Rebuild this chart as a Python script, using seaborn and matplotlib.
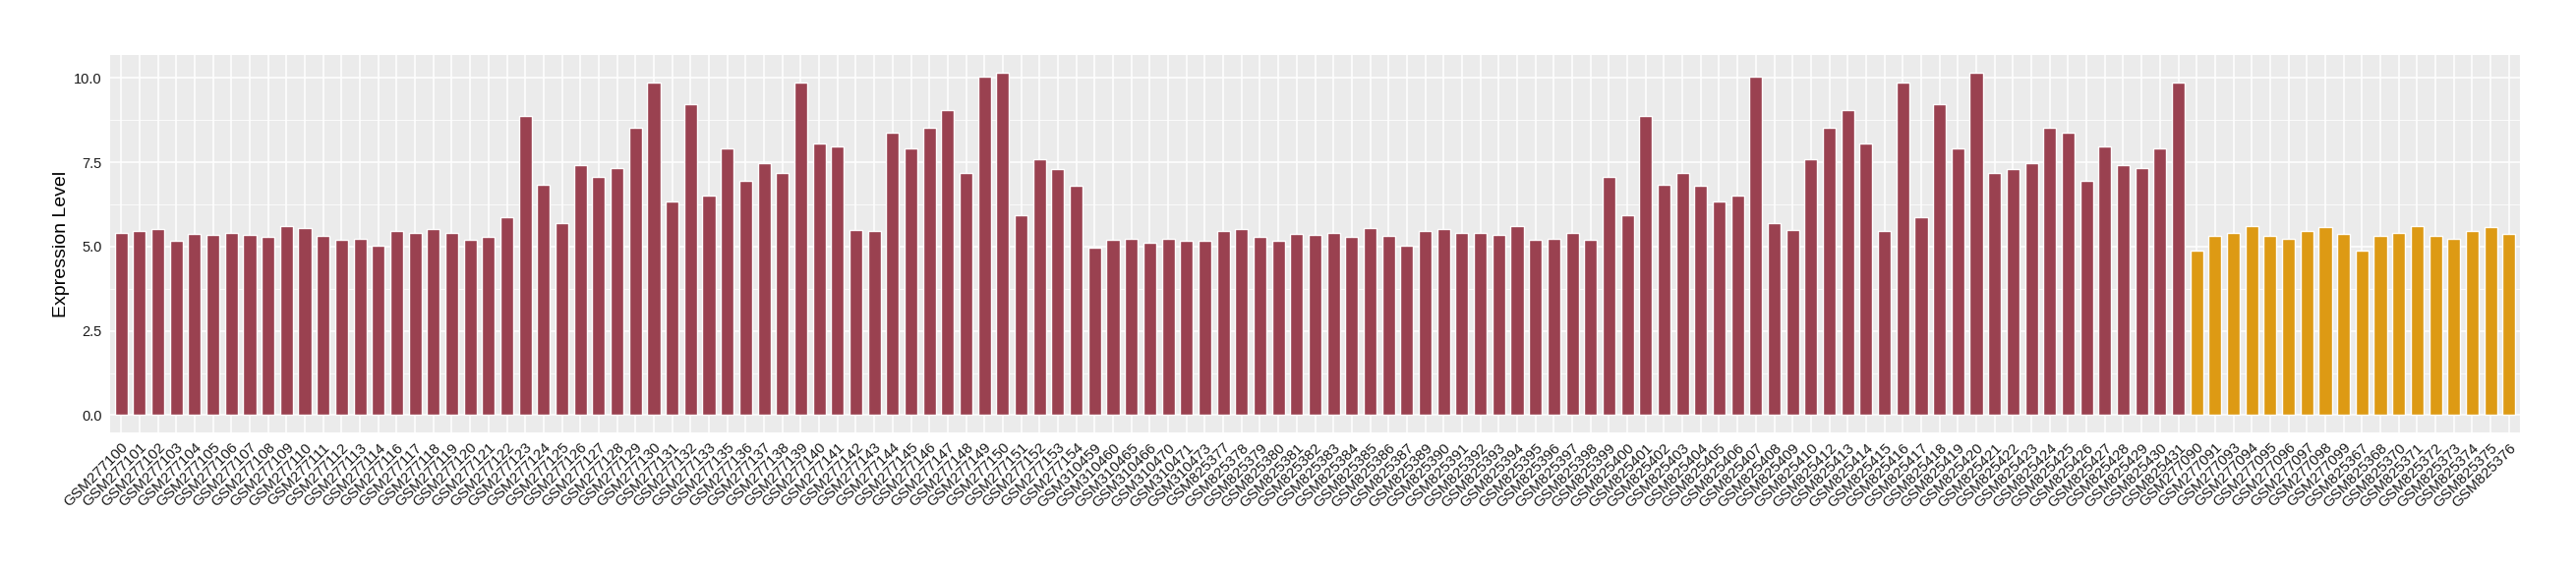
import matplotlib
matplotlib.use("Agg")
import matplotlib.pyplot as plt
import seaborn as sns
import pandas as pd
import numpy as np

# ---- data ----
red_samples = (
    [f"GSM2771{n:02d}" for n in range(0, 55) if n not in (15, 34)]
    + ["GSM310459", "GSM310460", "GSM310465", "GSM310466", "GSM310470", "GSM310471", "GSM310473"]
    + [f"GSM825{n}" for n in range(377, 432) if n not in (388, 411)]
)
orange_samples = (
    ["GSM277090", "GSM277091", "GSM277093", "GSM277094", "GSM277095", "GSM277096",
     "GSM277097", "GSM277098", "GSM277099",
     "GSM825367", "GSM825368", "GSM825370", "GSM825371", "GSM825372", "GSM825373",
     "GSM825374", "GSM825375", "GSM825376"]
)

red_values = [
    5.42, 5.45, 5.53, 5.16, 5.39, 5.36, 5.42, 5.36, 5.30, 5.62,
    5.56, 5.33, 5.21, 5.24, 5.04, 5.45, 5.42, 5.53, 5.42, 5.21,
    5.30, 5.88, 8.88, 6.84, 5.71, 7.43, 7.08, 7.34, 8.53, 9.87,
    6.35, 9.23, 6.50, 7.92, 6.96, 7.46, 7.19, 9.87, 8.07, 7.98,
    5.50, 5.45, 8.39, 7.92, 8.53, 9.06, 7.17, 10.05, 10.17, 5.94,
    7.60, 7.31, 6.79,
    4.98, 5.21, 5.24, 5.10, 5.24, 5.18, 5.16,
    5.45, 5.53, 5.30, 5.16, 5.39, 5.36, 5.42, 5.30, 5.56, 5.33,
    5.04, 5.45, 5.53, 5.42, 5.42, 5.36, 5.62, 5.21, 5.24, 5.42,
    5.21, 7.08, 5.94, 8.88, 6.84, 7.17, 6.79, 6.35, 6.50, 10.05,
    5.71, 5.50, 7.60, 8.53, 9.06, 8.07, 5.45, 9.87, 5.88, 9.23,
    7.92, 10.17, 7.19, 7.31, 7.46, 8.53, 8.39, 6.96, 7.98, 7.43,
    7.34, 7.92, 9.87,
]
orange_values = [
    4.89, 5.33, 5.42, 5.62, 5.33, 5.24, 5.45, 5.59, 5.39,
    4.89, 5.33, 5.42, 5.62, 5.33, 5.24, 5.45, 5.59, 5.39,
]
groups = ["A", "B"]
group_colors = ["#9A4150", "#DD9A14"]
y_ticks = [0.0, 2.5, 5.0, 7.5, 10.0]
y_label = "Expression Level"

df = pd.DataFrame({
    "sample": red_samples + orange_samples,
    "value": red_values + orange_values,
    "group": [groups[0]] * len(red_samples) + [groups[1]] * len(orange_samples),
})

# ---- style ----
sns.set_theme(style="darkgrid")
plt.rcParams["font.family"] = ["Liberation Sans", "DejaVu Sans"]

fig = plt.figure(figsize=(26.2, 5.8), dpi=100)
ax = fig.add_axes([112 / 2620, 1 - 440 / 580, (2563 - 112) / 2620, (440 - 56) / 580])
ax.set_facecolor("#EBEBEB")

sns.barplot(data=df, x="sample", y="value", hue="group", order=df["sample"].tolist(),
            palette=dict(zip(groups, group_colors)), dodge=False, width=0.7,
            saturation=1, legend=False, ax=ax, zorder=3)

ax.set_xlim(-0.6, len(df) - 0.4)
ax.set_ylim(-0.51, 10.68)
ax.set_yticks(y_ticks)
ax.set_yticklabels([f"{t:.1f}" for t in y_ticks])
ax.set_yticks([1.25, 3.75, 6.25, 8.75], minor=True)

ax.grid(False)
ax.set_axisbelow(True)
ax.grid(which="major", color="white", linewidth=1.1)
ax.grid(which="minor", axis="y", color="white", linewidth=0.55)
for s in ax.spines.values():
    s.set_visible(False)

ax.tick_params(axis="both", which="major", length=3.5, width=0.8, color="#333333",
               labelcolor="#1A1A1A", pad=2.5)
ax.tick_params(axis="y", which="major", labelsize=10.5)
ax.tick_params(axis="x", which="major", labelsize=11)
ax.tick_params(which="minor", length=0)
for lbl in ax.get_xticklabels():
    lbl.set_rotation(45)
    lbl.set_ha("right")
    lbl.set_va("top")
    lbl.set_rotation_mode("anchor")

ax.set_xlabel("")
ax.set_ylabel(y_label, fontsize=14, color="black", labelpad=3)

fig.savefig("out.png", dpi=100, facecolor="white")
